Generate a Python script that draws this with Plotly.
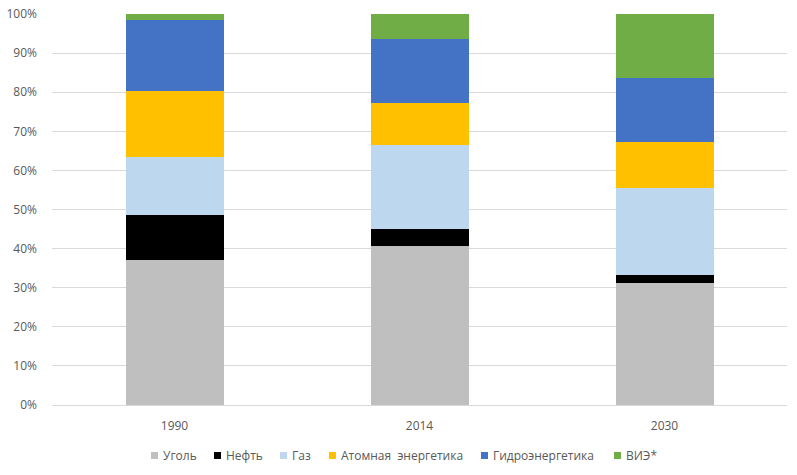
import plotly.graph_objects as go

categories = ["1990", "2014", "2030"]
coal = [37.2, 40.7, 31.3]
oil = [11.5, 4.4, 2.0]
gas = [14.8, 21.5, 22.3]
nuclear = [16.9, 10.7, 11.7]
hydro = [18.1, 16.4, 16.4]
res = [1.5, 6.3, 16.3]

series_names = ["Уголь", "Нефть", "Газ", "Атомная\u00a0 энергетика", "Гидроэнергетика", "ВИЭ*"]
series_values = [coal, oil, gas, nuclear, hydro, res]
colors = ["#BFBFBF", "#000000", "#BDD7EE", "#FFC000", "#4472C4", "#70AD47"]

W, H = 797, 475
L, R, T, B = 52, 10, 14, 70
PW, PH = W - L - R, H - T - B

def px2paper_x(px):
    return (px - L) / PW

def px2paper_y(py):
    return (H - B - py) / PH

FONT = "Open Sans, Lato, sans-serif"
GREY = "#595959"

fig = go.Figure()
for name, vals, col in zip(series_names, series_values, colors):
    fig.add_trace(go.Bar(x=categories, y=vals, name=name, marker=dict(color=col, line=dict(width=0)),
                         width=0.4, showlegend=False))

# custom legend (layout only): square swatch + label
legend_left = [151, 214, 280, 329, 481, 614]
sq = 7
ly = 455.5
shapes = []
annotations = []
for name, col, x0 in zip(series_names, colors, legend_left):
    shapes.append(dict(type="rect", xref="paper", yref="paper",
                       x0=px2paper_x(x0), x1=px2paper_x(x0 + sq),
                       y0=px2paper_y(ly + sq / 2), y1=px2paper_y(ly - sq / 2),
                       fillcolor=col, line=dict(width=0)))
    annotations.append(dict(xref="paper", yref="paper", x=px2paper_x(x0 + sq + 3), y=px2paper_y(ly),
                            xanchor="left", yanchor="middle", text=name, showarrow=False,
                            font=dict(family=FONT, size=12, color=GREY)))

fig.update_layout(
    barmode="stack",
    width=W, height=H,
    margin=dict(l=L, r=R, t=T, b=B, autoexpand=False),
    plot_bgcolor="white", paper_bgcolor="white",
    font=dict(family=FONT, size=12, color=GREY),
    showlegend=False,
    shapes=shapes,
    annotations=annotations,
)
fig.update_yaxes(range=[0, 100], dtick=10, ticksuffix="%", showgrid=True, gridcolor="#D9D9D9",
                 gridwidth=1, zeroline=False, showline=False, ticks="", ticklabelstandoff=14,
                 automargin=False, fixedrange=True)
fig.update_xaxes(showline=True, linecolor="#D9D9D9", linewidth=1, ticks="", showgrid=False,
                 ticklabelstandoff=10, automargin=False, fixedrange=True)

fig.write_html("out.html", config={"displayModeBar": False},
               post_script="document.body.style.margin='0';document.body.style.overflow='hidden';")
